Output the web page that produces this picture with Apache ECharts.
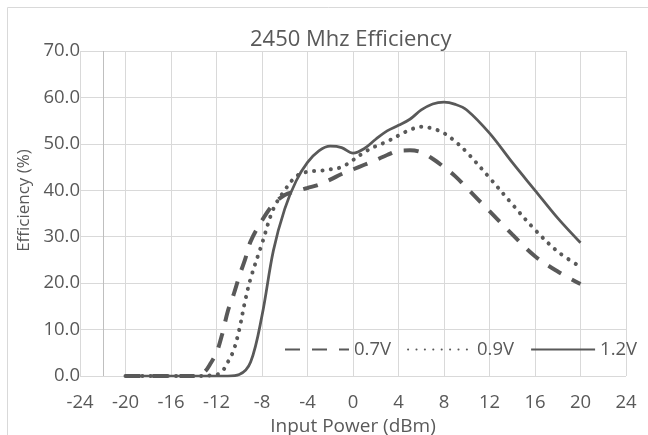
<!DOCTYPE html>
<html>
<head>
<meta charset="utf-8">
<script src="https://cdn.jsdelivr.net/npm/echarts@6/dist/echarts.min.js"></script>
<style>
  html, body { margin: 0; padding: 0; background: #fff; }
  #chart { width: 648px; height: 435px; }
</style>
</head>
<body>
<div id="chart"></div>
<script>
// 数据
const power07 = [-20, -16, -14, -13.5, -13, -12.5, -12, -11.5, -11, -10.5, -10, -9.5, -9, -8, -7, -6, -5, -4, -3, -2, -1, 0, 1, 2, 3, 4, 5, 6, 7, 8, 9, 10, 12, 14, 16, 18, 20]
const eff07 = [0, 0, 0, 0.3, 1, 2.8, 5, 9, 14, 17.5, 21.5, 25, 29, 33.5, 37, 39, 39.8, 40.5, 41.2, 42.3, 43.5, 44.5, 45.5, 46.5, 47.6, 48.5, 48.6, 48.2, 46.8, 45, 43, 40.5, 35.5, 30.5, 25.8, 22.5, 19.8]

const power09 = [-20, -16, -14, -12, -11.5, -11, -10.5, -10, -9.5, -9, -8, -7, -6, -5, -4, -3, -2, -1, 0, 1, 2, 3, 4, 5, 6, 7, 8, 9, 10, 12, 14, 16, 18, 20]
const eff09 = [0, 0, 0, 0.3, 1, 3, 5.5, 10, 16, 21, 28.5, 36, 40, 43, 44, 44.2, 44.5, 45, 46.5, 48.2, 49.5, 50.5, 51.8, 53, 53.7, 53.3, 52.3, 50.5, 48.2, 42.7, 37, 31.5, 26.8, 23.5]

const power12 = [-20, -16, -14, -12, -11, -10, -9, -8, -7, -6, -5, -4, -3, -2, -1, 0, 1, 2, 3, 4, 5, 6, 7, 8, 9, 10, 12, 14, 16, 18, 20]
const eff12 = [0, 0, 0, 0, 0, 0.3, 3, 13, 27, 36, 42, 46, 48.5, 49.5, 49.2, 48, 49, 51, 52.8, 54, 55.3, 57.3, 58.6, 59, 58.5, 57.3, 52.3, 46, 40, 34, 28.7]

const seriesNames = ['0.7V', '0.9V', '1.2V']
const yAxisCrossX = -22

const FONT = 'Open Sans'
const GRAY = '#595959'
const GRID_GRAY = '#d9d9d9'

const toPairs = (xs, ys) => xs.map((x, i) => [x, ys[i]])

const chart = echarts.init(document.getElementById('chart'))
chart.setOption({
  animation: false,
  textStyle: { fontFamily: FONT },
  graphic: [
    {
      type: 'rect',
      shape: { x: 7.5, y: 7.5, width: 700, height: 500 },
      style: { fill: 'none', stroke: GRID_GRAY, lineWidth: 1 },
      silent: true
    }
  ],
  title: {
    text: '2450 Mhz Efficiency',
    left: 245,
    top: 24,
    textStyle: { fontFamily: FONT, fontSize: 22, fontWeight: 'normal', color: GRAY }
  },
  legend: {
    data: seriesNames,
    left: 279,
    top: 335,
    itemWidth: 64,
    itemHeight: 14,
    itemGap: 16,
    itemStyle: { opacity: 0 },
    textStyle: { fontFamily: FONT, fontSize: 18.5, color: GRAY }
  },
  grid: { left: 80, right: 22, top: 51, bottom: 59, outerBoundsMode: 'none' },
  xAxis: {
    type: 'value',
    min: -24,
    max: 24,
    interval: 4,
    name: 'Input Power (dBm)',
    nameLocation: 'middle',
    nameGap: 36,
    nameTextStyle: { fontFamily: FONT, fontSize: 19, color: GRAY },
    axisLine: { show: false },
    axisTick: { show: false },
    axisLabel: { margin: 17, fontFamily: FONT, fontSize: 18.5, color: GRAY },
    splitLine: { show: true, lineStyle: { color: GRID_GRAY, width: 1 } }
  },
  yAxis: {
    type: 'value',
    min: 0,
    max: 70,
    interval: 10,
    name: 'Efficiency (%)',
    nameLocation: 'middle',
    nameRotate: 90,
    nameGap: 43,
    nameTextStyle: { fontFamily: FONT, fontSize: 17, color: GRAY, padding: [0, 0, 0, 26] },
    axisLine: { show: false },
    axisTick: { show: false },
    axisLabel: {
      margin: 0,
      fontFamily: FONT,
      fontSize: 18.5,
      color: GRAY,
      formatter: v => v.toFixed(1)
    },
    splitLine: { show: true, lineStyle: { color: GRID_GRAY, width: 1 } }
  },
  series: [
    {
      name: seriesNames[0],
      type: 'line',
      data: toPairs(power07, eff07),
      smooth: 0.35,
      symbol: 'none',
      lineStyle: { color: GRAY, width: 4, type: [15, 12], cap: 'butt' },
      itemStyle: { color: GRAY },
      markLine: {
        silent: true,
        symbol: 'none',
        label: { show: false },
        lineStyle: { color: '#bfbfbf', width: 1, type: 'solid' },
        data: [{ xAxis: yAxisCrossX }]
      }
    },
    {
      name: seriesNames[1],
      type: 'line',
      data: toPairs(power09, eff09),
      smooth: 0.35,
      symbol: 'none',
      lineStyle: { color: GRAY, width: 4, type: [0.1, 8.3], cap: 'round' },
      itemStyle: { color: GRAY }
    },
    {
      name: seriesNames[2],
      type: 'line',
      data: toPairs(power12, eff12),
      smooth: 0.35,
      symbol: 'none',
      lineStyle: { color: GRAY, width: 2.75, type: 'solid' },
      itemStyle: { color: GRAY }
    }
  ]
})
</script>
</body>
</html>
